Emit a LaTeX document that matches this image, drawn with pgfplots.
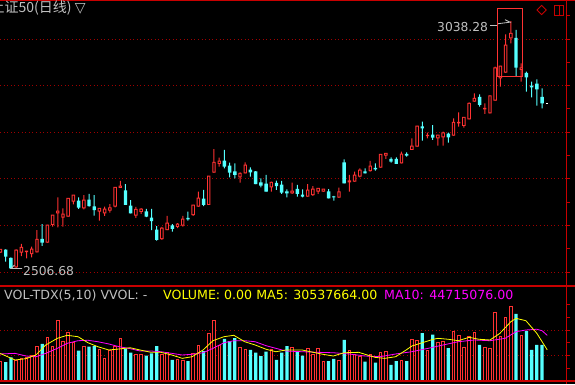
\documentclass[border=0pt]{standalone}
\usepackage{pgfplots}
\pgfplotsset{compat=1.18}
\usepackage{pgfplotstable}
\usepackage{fontspec}
\setmainfont{DejaVu Sans}
\newfontfamily\cjk{Noto Sans CJK SC}
\newfontfamily\dejavu{DejaVu Sans}
\definecolor{upred}{RGB}{255,50,50}
\definecolor{dncyan}{RGB}{84,255,255}
\definecolor{framered}{RGB}{200,0,0}
\definecolor{gridred}{RGB}{160,0,0}
\definecolor{txtgrey}{RGB}{192,192,192}
\definecolor{mayel}{RGB}{255,255,0}
\definecolor{mamag}{RGB}{255,0,255}

% up (red, hollow) candles: index, open, high, low, close, volume (millions)
\pgfplotstableread{
i O H L C V
0 2541.4 2548.7 2541.4 2548.7 19.6
3 2510.0 2548.7 2508.0 2547.2 20.6
4 2541.4 2560.1 2534.3 2553.0 21.9
5 2542.9 2545.1 2529.4 2545.1 23.2
6 2538.6 2554.3 2531.5 2549.4 25.5
7 2542.3 2590.1 2542.3 2570.2 34.3
9 2562.9 2600.9 2562.9 2600.9 43.1
10 2600.9 2622.3 2597.2 2622.3 34.3
11 2626.0 2660.3 2595.9 2630.9 59.8
12 2616.5 2636.7 2597.2 2624.5 39.2
13 2618.7 2658.2 2618.7 2658.2 48.0
14 2650.9 2665.2 2645.3 2665.2 37.5
16 2636.7 2665.2 2634.5 2654.5 33.6
19 2629.4 2636.7 2610.1 2636.7 31.4
20 2626.0 2640.1 2620.2 2635.2 22.2
21 2631.5 2645.9 2627.3 2638.0 29.7
22 2640.1 2681.8 2638.8 2681.8 34.3
23 2680.3 2695.3 2680.3 2684.5 42.1
26 2620.8 2639.5 2615.9 2634.5 26.5
27 2628.8 2637.3 2624.5 2635.2 26.5
31 2570.8 2596.6 2568.7 2594.4 26.5
32 2590.1 2620.2 2590.1 2605.1 28.1
34 2596.6 2605.1 2594.4 2603.0 21.3
35 2599.4 2620.2 2597.2 2613.7 20.6
37 2622.3 2643.8 2620.2 2643.8 27.4
38 2640.1 2672.3 2640.1 2658.8 35.3
40 2643.8 2706.0 2643.8 2706.0 47.0
41 2713.1 2763.9 2713.1 2735.4 59.8
42 2731.8 2745.3 2726.0 2738.2 35.3
46 2703.2 2713.9 2691.6 2711.8 33.3
47 2711.8 2735.4 2711.8 2729.6 31.4
52 2681.8 2693.8 2672.3 2692.5 31.4
56 2668.9 2691.6 2667.4 2673.8 33.0
59 2661.6 2688.8 2661.6 2676.0 32.0
60 2665.2 2684.5 2663.1 2678.1 26.5
61 2672.3 2679.6 2667.4 2679.6 32.0
62 2672.3 2678.1 2672.3 2678.1 19.6
65 2659.4 2680.9 2659.4 2672.3 20.6
67 2692.5 2708.2 2672.3 2695.9 30.4
68 2693.8 2715.2 2693.8 2708.2 26.2
69 2704.5 2722.5 2703.2 2718.9 24.5
71 2716.7 2738.2 2715.2 2727.5 26.5
73 2723.8 2752.6 2723.8 2752.6 28.1
74 2749.6 2754.7 2742.5 2754.7 29.4
77 2733.3 2758.2 2733.3 2753.2 19.9
79 2761.8 2786.9 2761.8 2770.4 41.2
80 2768.9 2813.3 2768.9 2813.3 40.2
82 2791.8 2798.9 2786.9 2793.3 30.4
84 2786.9 2794.0 2771.0 2794.0 37.5
85 2789.0 2801.1 2771.0 2798.9 39.2
87 2792.5 2829.8 2792.5 2821.2 49.0
88 2819.1 2842.7 2811.8 2821.2 45.1
89 2813.3 2832.0 2809.7 2832.0 33.3
90 2827.7 2864.2 2827.7 2862.0 44.1
91 2865.4 2883.5 2865.4 2872.7 48.0
93 2849.1 2862.0 2839.1 2851.3 33.3
94 2840.6 2878.3 2840.6 2878.3 32.3
95 2867.6 2940.6 2867.6 2938.4 67.6
96 2915.7 2942.1 2897.6 2942.1 44.1
97 2927.7 3010.1 2927.7 2987.1 62.7
98 3001.5 3038.28 2990.8 3012.2 73.5
100 2933.5 2947.8 2908.4 2938.4 45.1
}\up

% down (cyan, filled) candles
\pgfplotstableread{
i O H L C V
1 2547.2 2548.7 2522.1 2532.8 18.6
2 2529.4 2531.5 2506.68 2507.9 23.2
8 2570.2 2603.0 2555.8 2562.9 36.3
15 2652.4 2660.3 2635.2 2638.0 29.7
17 2654.5 2667.4 2640.1 2641.6 33.6
18 2640.1 2665.2 2620.8 2633.0 34.3
24 2674.5 2688.8 2643.8 2643.8 31.7
25 2641.6 2654.5 2626.0 2626.0 27.7
28 2629.4 2635.2 2618.0 2618.7 24.8
29 2615.9 2635.2 2590.1 2609.4 27.1
30 2590.1 2598.7 2567.2 2568.7 34.3
33 2599.4 2603.0 2586.5 2592.3 20.6
36 2615.2 2629.4 2610.1 2613.1 19.6
39 2656.7 2676.0 2641.6 2643.8 29.4
43 2738.2 2761.8 2722.5 2726.0 41.2
44 2727.5 2734.5 2703.2 2713.1 39.2
45 2715.2 2733.3 2701.1 2708.2 42.1
48 2718.9 2724.7 2704.5 2713.9 30.4
49 2715.2 2716.7 2688.8 2688.8 27.7
50 2691.6 2701.1 2681.8 2685.2 24.5
51 2688.8 2708.2 2672.3 2672.3 28.7
53 2690.3 2695.9 2676.0 2684.5 20.6
54 2686.7 2695.3 2667.4 2670.2 27.7
55 2672.3 2677.5 2660.3 2668.9 34.3
57 2677.5 2686.7 2661.6 2667.4 28.7
58 2665.2 2677.5 2660.3 2661.6 24.8
63 2672.3 2678.1 2658.2 2658.2 19.6
64 2661.6 2663.1 2653.0 2660.3 21.6
66 2734.5 2741.8 2690.3 2690.3 40.2
70 2715.2 2722.5 2711.8 2711.8 18.9
72 2722.5 2733.3 2717.4 2720.4 17.9
75 2741.8 2746.1 2734.5 2736.7 15.7
76 2741.8 2746.1 2731.8 2731.8 19.6
78 2752.6 2756.9 2747.4 2749.6 19.6
81 2811.8 2822.5 2781.8 2808.4 47.0
83 2794.0 2815.4 2783.3 2788.2 45.4
86 2796.1 2798.9 2777.5 2789.0 32.3
92 2874.9 2881.3 2854.7 2858.4 35.3
99 3001.5 3019.3 2920.6 2938.4 65.7
101 2926.4 2929.8 2886.9 2917.8 49.0
102 2899.1 2908.4 2874.9 2896.3 30.4
103 2903.4 2913.5 2856.9 2892.1 35.3
104 2874.9 2894.2 2851.3 2862.0 35.3
}\down

\pgfplotstableread{
x y
-0.1 27.1
2.8 20.6
4.9 21.9
6.8 25.5
8.7 35.3
10.9 41.8
12.8 44.8
14.9 43.4
16.8 37.5
18.7 33.6
20.8 30.4
22.8 31.4
24.9 32.6
26.8 30.4
28.9 28.1
30.8 28.1
32.9 25.5
34.9 22.2
36.8 23.8
38.9 30.4
40.8 39.5
42.9 43.4
44.8 44.8
46.9 38.5
48.9 35.3
51.0 31.1
52.9 28.7
54.8 30.4
57.9 30.4
59.8 28.4
61.9 26.2
63.9 24.5
66.0 27.7
68.8 28.1
71.9 23.2
73.8 22.2
75.9 23.8
77.9 30.4
79.0 34.3
81.0 37.5
83.1 40.9
84.0 41.8
86.0 40.9
87.9 39.5
90.0 42.8
91.9 40.9
94.0 40.2
95.9 46.7
98.0 58.1
99.0 61.4
100.9 59.1
103.0 46.7
105.0 30.5
}\mafive

\pgfplotstableread{
x y
-0.1 26.5
2.8 27.1
4.9 24.5
6.8 23.8
8.7 27.1
10.9 32.0
12.8 36.9
14.9 39.5
16.8 39.9
18.7 38.5
20.8 36.3
22.8 33.6
24.9 31.7
26.8 29.4
28.9 29.4
30.8 28.7
32.9 27.1
34.9 25.5
36.8 26.2
38.9 27.7
40.8 32.0
42.9 37.5
44.8 39.5
46.9 39.5
48.9 38.5
51.0 34.6
52.9 32.0
54.8 29.4
57.9 28.7
61.0 28.1
63.9 27.7
66.9 26.5
70.0 24.5
72.9 23.8
75.9 26.5
79.0 28.7
82.1 32.0
85.0 35.3
87.9 38.5
91.0 40.2
94.0 39.5
96.9 41.8
99.0 48.3
100.9 50.0
103.0 50.7
104.0 49.3
105.0 44.7
}\maten

\pgfplotsset{
  panel/.style={
    scale only axis, width=566pt,
    xmin=-0.096, xmax=108.6,
    xtick=\empty,
    axis line style={draw=none},
    ytick pos=right, tick align=outside,
    yticklabel=\empty,
    major tick length=4pt, minor tick length=4pt,
    every tick/.style={draw=framered, line width=0.8pt},
    ymajorgrids,
    grid style={draw=gridred, line width=0.9pt, dash pattern=on 1pt off 2.6pt},
  },
  pricebox/.style={
    scale only axis, width=566pt, height=285pt,
    at={(0pt,98pt)}, anchor=south west,
    xmin=-0.096, xmax=108.6, ymin=2469.96, ymax=3081.5,
  },
  candlelayer/.style={
    pricebox, hide axis, ybar stacked, bar shift=0pt,
  },
}

\begin{document}
\begin{tikzpicture}[x=1pt,y=1pt]
\useasboundingbox (0,0) rectangle (575,384);
\clip (0,0) rectangle (575,384);
\fill[black] (0,0) rectangle (575,384);

% ---------- price panel: grid and right ticks ----------
\begin{axis}[panel, pricebox,
  ytick={2500,2600,...,3000}, minor ytick={2550,2650,...,3050}]
\addplot[white, line width=1pt] coordinates {(104.75,2862.0) (105.2,2862.0)};
\end{axis}

% up candles: wicks
\begin{axis}[candlelayer, bar width=1pt]
\addplot[draw=none, fill=none] table[x=i, y=L] {\up};
\addplot[draw=none, fill=upred] table[x=i, y expr=\thisrow{H}-\thisrow{L}] {\up};
\end{axis}
% up candles: bodies
\begin{axis}[candlelayer, bar width=3.4pt]
\addplot[draw=none, fill=none] table[x=i, y=O] {\up};
\addplot[draw=none, fill=upred] table[x=i, y expr=\thisrow{C}-\thisrow{O}+0.8] {\up};
\end{axis}
% up candles: hollow inside
\begin{axis}[candlelayer, bar width=1.4pt]
\addplot[draw=none, fill=none] table[x=i, y expr=\thisrow{O}+2.15] {\up};
\addplot[draw=none, fill=black] table[x=i, y expr={max(\thisrow{C}-\thisrow{O}-3.5,0)}] {\up};
\end{axis}
% down candles: wicks
\begin{axis}[candlelayer, bar width=1pt]
\addplot[draw=none, fill=none] table[x=i, y=L] {\down};
\addplot[draw=none, fill=dncyan] table[x=i, y expr=\thisrow{H}-\thisrow{L}] {\down};
\end{axis}
% down candles: bodies
\begin{axis}[candlelayer, bar width=3.4pt]
\addplot[draw=none, fill=none] table[x=i, y=C] {\down};
\addplot[draw=none, fill=dncyan] table[x=i, y expr=\thisrow{O}-\thisrow{C}+0.8] {\down};
\end{axis}

% ---------- volume panel ----------
\begin{axis}[panel, at={(0pt,3pt)}, anchor=south west, height=95pt,
  ymin=0, ymax=93.1,
  ytick={25,50}, minor ytick={12.5,37.5,62.5,75}]
\addplot[ybar, bar width=2.5pt, bar shift=0pt, draw=upred, fill=black, line width=0.9pt]
  table[x=i, y=V] {\up};
\addplot[ybar, bar width=3.3pt, bar shift=0pt, draw=none, fill=dncyan]
  table[x=i, y=V] {\down};
\addplot[mamag, line width=0.8pt] table[x=x, y=y] {\maten};
\addplot[mayel, line width=0.8pt] table[x=x, y=y] {\mafive};
\end{axis}

% ---------- frame ----------
\draw[framered, line width=1.2pt] (0,383.2) -- (575,383.2);
\draw[framered, line width=1.2pt] (0,98) -- (575,98);
\draw[framered, line width=1.2pt] (0,3) -- (575,3);
\draw[framered, line width=1pt] (566,0) -- (566,384);

% ---------- texts ----------
\node[anchor=base west, inner sep=0, text=txtgrey, font=\cjk\fontsize{14}{14}\selectfont]
  at (-9.5,371.2) {上证50(日线) {\dejavu ▽}};
\node[anchor=base west, inner sep=0, text=txtgrey, font=\fontsize{12.6}{12.6}\selectfont]
  at (4,85) {VOL-TDX(5,10) VVOL: -};
\node[anchor=base west, inner sep=0, text=mayel, font=\fontsize{12.6}{12.6}\selectfont]
  at (163,85) {VOLUME: 0.00 MA5: 30537664.00};
\node[anchor=base west, inner sep=0, text=mamag, font=\fontsize{12.6}{12.6}\selectfont]
  at (384,85) {MA10: 44715076.00};

% high / low annotations
\node[anchor=base west, inner sep=0, text=txtgrey, font=\fontsize{12.3}{12.3}\selectfont]
  at (437,352.3) {3038.28};
\draw[txtgrey, line width=0.8pt] (490,359) -- (498,359);
\draw[txtgrey, line width=0.8pt] (498,360.3) -- (510,361.8) -- (505,364.3);
\node[anchor=base west, inner sep=0, text=txtgrey, font=\fontsize{12.3}{12.3}\selectfont]
  at (23,108.3) {2506.68};
\draw[txtgrey, line width=0.8pt] (22,115.5) -- (11,115.5) -- (14.5,119);

% highlight box and icons
\draw[upred, line width=1pt] (497.3,307.7) rectangle (522.3,375.7);
\draw[framered, line width=0.9pt] (541.7,378.6) -- (546.3,374) -- (541.7,369.4) -- (537.1,374) -- cycle;
\draw[framered, line width=0.9pt] (554.3,368.7) rectangle (563.3,379);
\draw[framered, line width=0.9pt] (559,368.7) -- (559,379);
\end{tikzpicture}
\end{document}
